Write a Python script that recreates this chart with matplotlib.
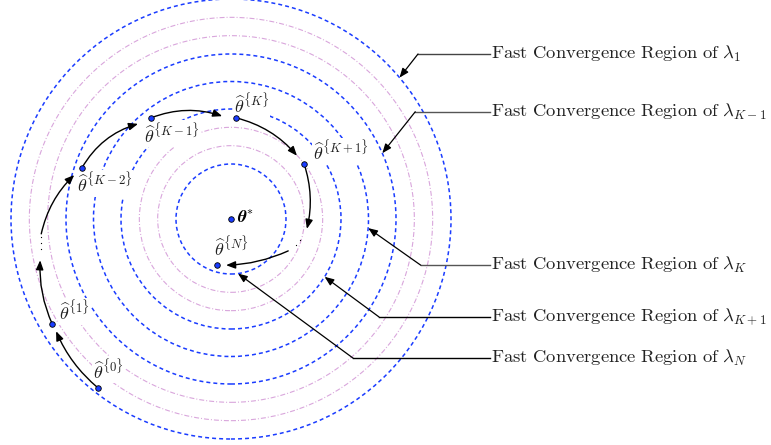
import numpy as np
import matplotlib.pyplot as plt
from matplotlib.patches import Circle, FancyArrowPatch

plt.rcParams['mathtext.fontset'] = 'cm'

# region radii, in units of the innermost region (centre = theta*)
blue_radii = [1.0, 2.0, 2.5, 3.0, 4.0]
pink_radii = [4 / 3, 5 / 3, 10 / 3, 11 / 3]

# iterates theta^{k}
iter_names = ['0', '1', 'K-2', 'K-1', 'K', 'K+1', 'N']
iter_x = [-2.42, -3.25, -2.71, -1.45, 0.09, 1.33, -0.25]
iter_y = [-3.07, -1.91, 0.93, 1.84, 1.84, 1.00, -0.84]
label_x = [-2.23, -2.85, -2.30, -1.07, 0.37, 2.00, 0.0]
label_y = [-2.74, -1.68, 0.65, 1.55, 2.09, 1.23, -0.51]

# path between iterates: start, end, bend
path_start = [(-2.42, -3.07), (-3.25, -1.91), (-3.45, -0.27), (-2.71, 0.93),
              (-1.45, 1.84), (0.09, 1.84), (1.33, 1.00), (1.04, -0.58)]
path_end = [(-3.18, -2.04), (-3.47, -0.75), (-2.85, 0.80), (-1.69, 1.73),
            (-0.16, 1.87), (1.20, 1.15), (1.38, -0.18), (-0.09, -0.84)]
path_rad = [-0.12, -0.12, -0.15, -0.2, -0.18, -0.16, -0.14, -0.1]

# gaps in the path (ellipsis dots)
dots_x = [-3.45, -3.45, -3.45, 1.18, 1.25]
dots_y = [-0.33, -0.44, -0.55, -0.47, -0.38]

# callouts on the right
region_labels = [r'$\lambda_1$', r'$\lambda_{K-1}$', r'$\lambda_K$',
                 r'$\lambda_{K+1}$', r'$\lambda_N$']
region_radius = [4.0, 3.0, 2.5, 2.0, 1.0]
region_angle = [40.0, 23.5, -3.8, -31.7, -82.7]
elbow_x = [3.40, 3.35, 3.45, 2.69, 2.22]
elbow_y = [3.00, 1.95, -0.84, -1.78, -2.53]
leader_color = ['#444444', '#555555', '#555555', 'black', 'black']

blue = '#1a3cff'
pink = '#d9a6dc'

fig = plt.figure(figsize=(7.71, 4.45), dpi=100)
ax = fig.add_axes([0, 0, 1, 1])
ax.set_xlim(-231 / 55, 540 / 55)
ax.set_ylim(-226 / 55, 219 / 55)
ax.axis('off')

for r in blue_radii:
    ax.add_patch(Circle((0, 0), r, fill=False, ec=blue, lw=1.1,
                        ls=(0, (2.6, 2.0)), zorder=1))
for r in pink_radii:
    ax.add_patch(Circle((0, 0), r, fill=False, ec=pink, lw=0.8,
                        ls=(0, (4.5, 1.8, 0.9, 1.8)), zorder=1))

# labels of iterates (white box hides the circles behind them)
for name, lx, ly in zip(iter_names, label_x, label_y):
    ax.text(lx, ly, r'$\widehat{\theta}^{\{' + name + r'\}}$',
            fontsize=13, ha='center', va='center', color='#222222', zorder=2,
            bbox=dict(boxstyle='square,pad=0.05', fc='white', ec='none'))
ax.text(0.11, 0.0, r'$\boldsymbol{\theta}^{*}$', fontsize=12.5, ha='left',
        va='center', zorder=2)

for s, e, rad in zip(path_start, path_end, path_rad):
    ax.add_patch(FancyArrowPatch(s, e, connectionstyle=f'arc3,rad={rad}',
                                 arrowstyle='-|>,head_length=0.5,head_width=0.2',
                                 mutation_scale=11, lw=1.0, color='black',
                                 shrinkA=0, shrinkB=0, zorder=3))

ax.scatter(dots_x, dots_y, s=0.8, color='black', linewidths=0, zorder=3)

ax.scatter(iter_x + [0.0], iter_y + [0.0], s=16, color=blue,
           edgecolors='black', linewidths=0.6, zorder=4)

text_x = 4.73
for lab, r, ang, ex, ey, c in zip(region_labels, region_radius, region_angle,
                                  elbow_x, elbow_y, leader_color):
    tx = r * np.cos(np.radians(ang))
    ty = r * np.sin(np.radians(ang))
    ax.plot([ex, text_x - 0.02], [ey, ey], color=c, lw=1.0, zorder=3)
    ax.add_patch(FancyArrowPatch((ex, ey), (tx, ty),
                                 arrowstyle='-|>,head_length=0.5,head_width=0.2',
                                 mutation_scale=11, lw=0.9, color='black',
                                 shrinkA=0, shrinkB=0, zorder=3))
    ax.text(text_x, ey, r'$\mathrm{Fast\ Convergence\ Region\ of}\ $' + lab,
            fontsize=13.4, ha='left', va='center', color='#222222')

fig.savefig('out.png', dpi=100)
